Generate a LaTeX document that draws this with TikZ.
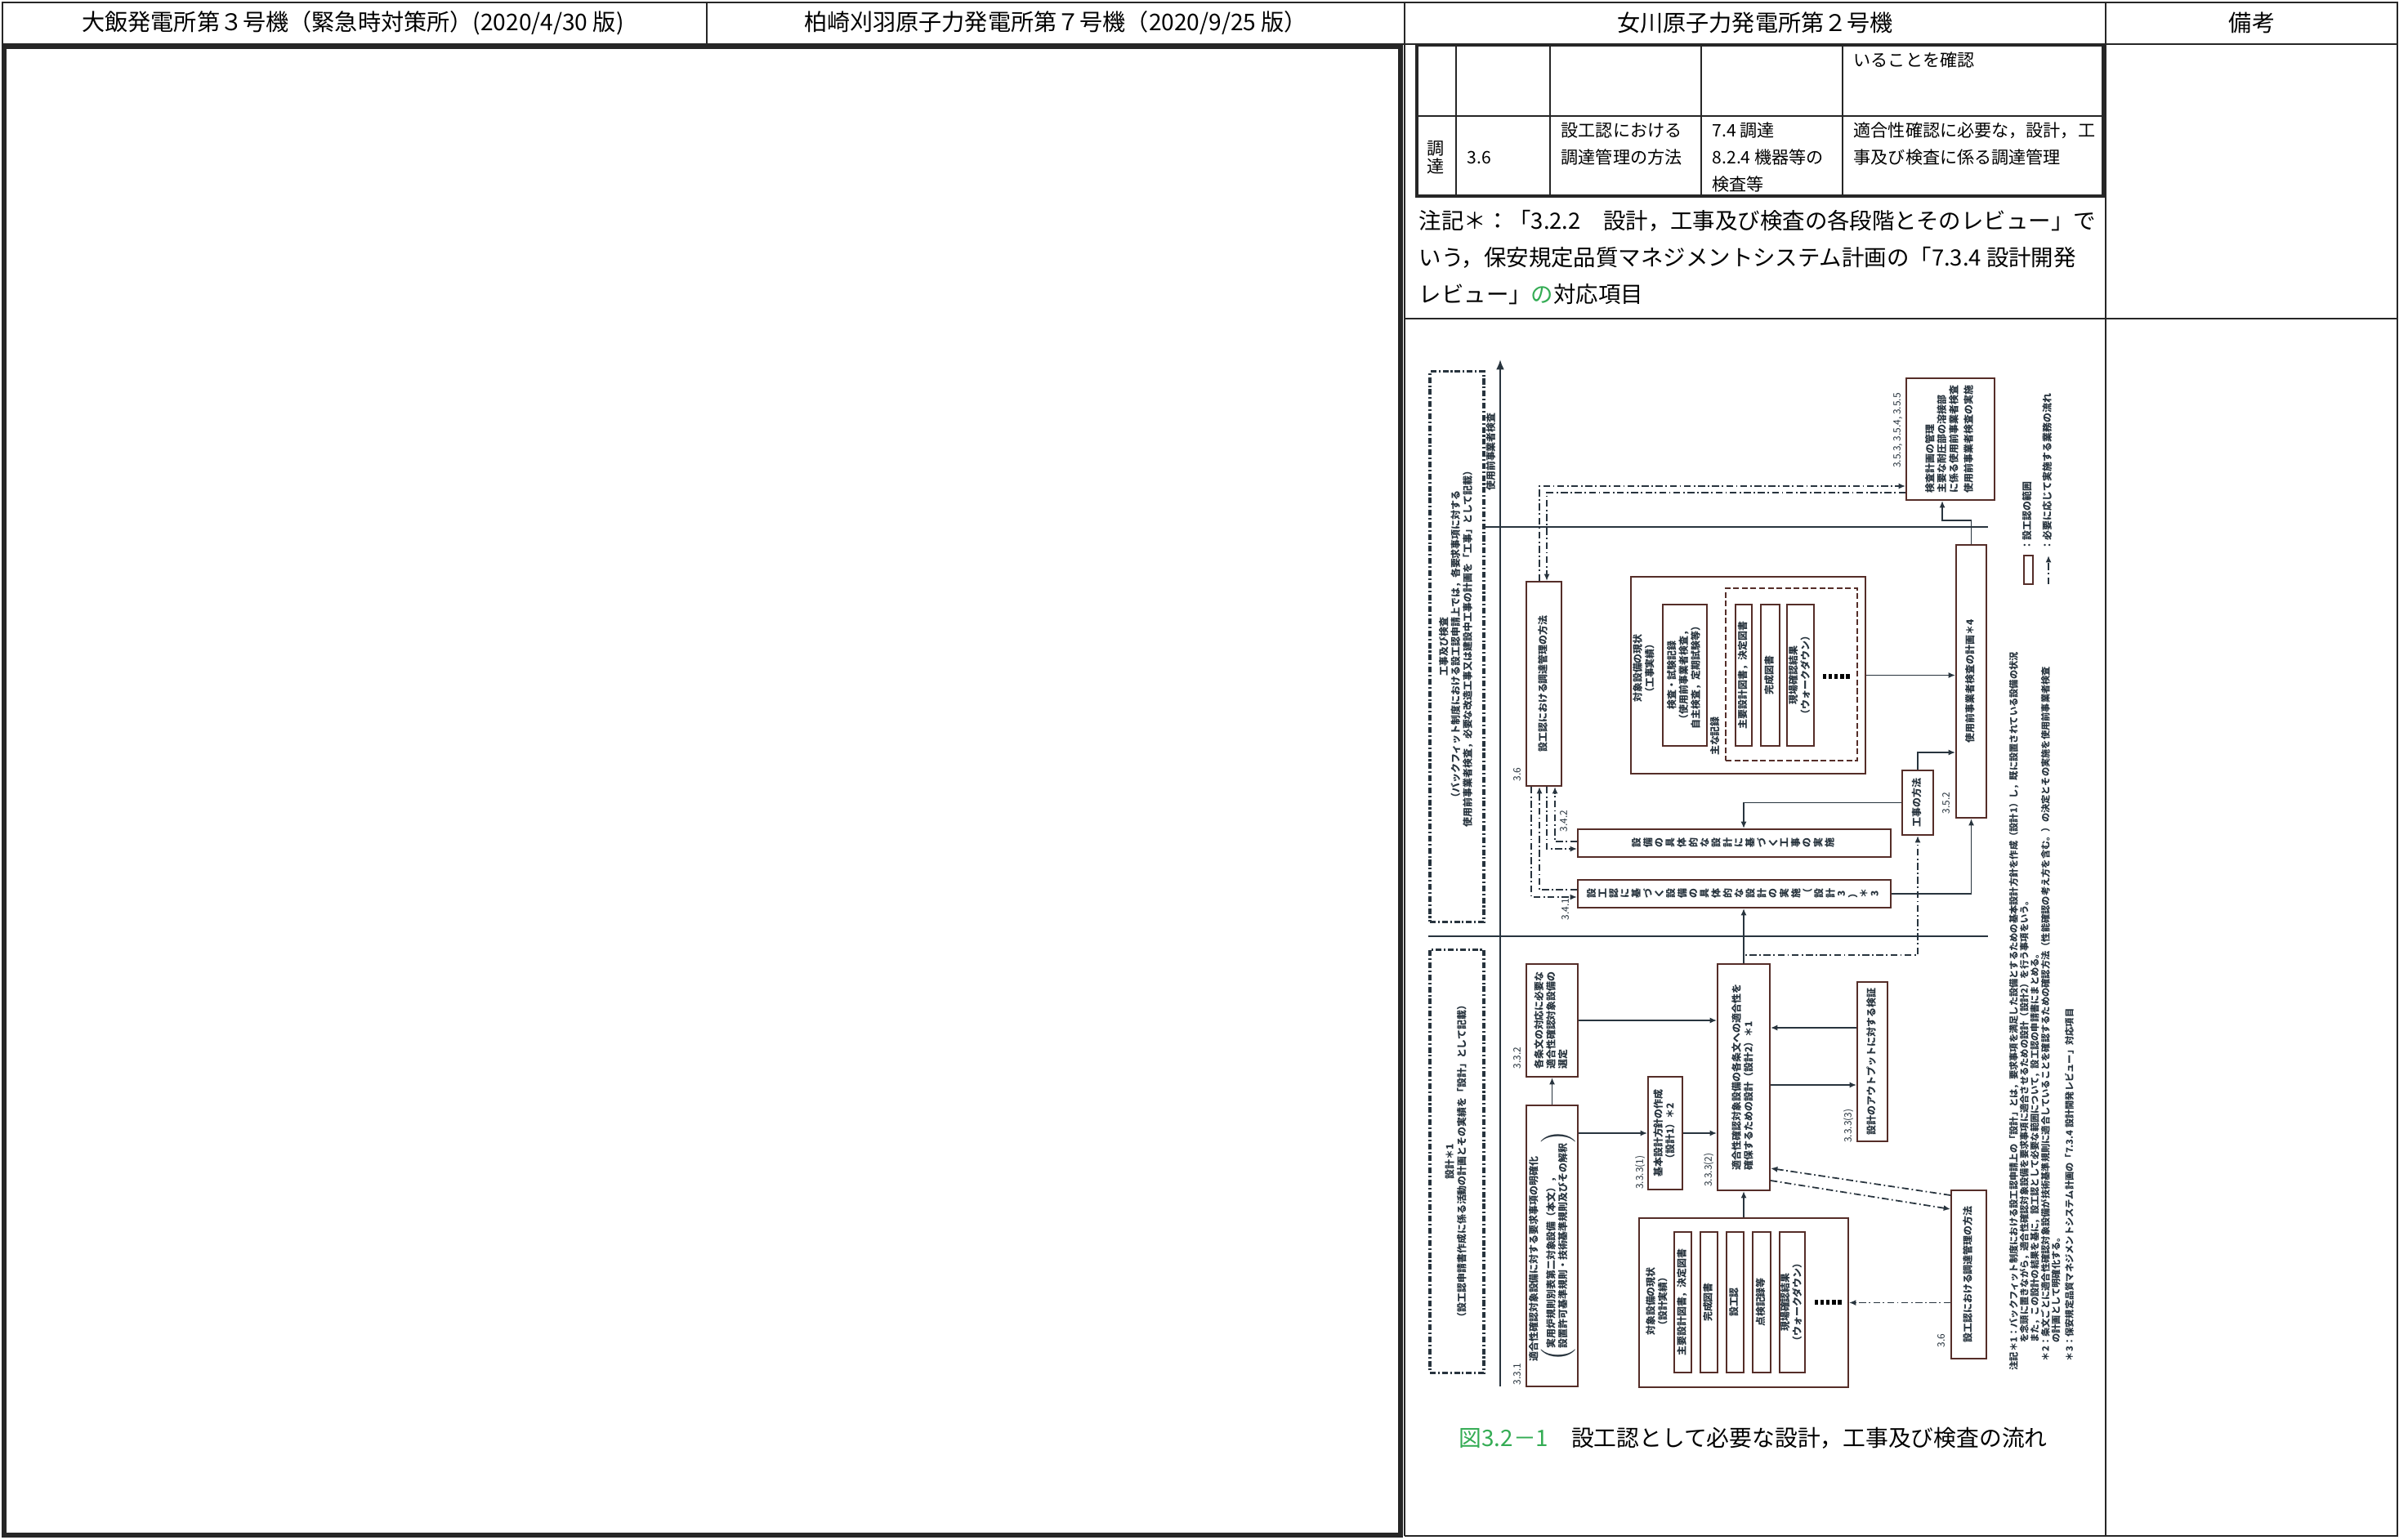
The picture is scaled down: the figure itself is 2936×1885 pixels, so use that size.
\documentclass[tikz,border=0pt]{standalone}
\usepackage{fontspec}
\setmainfont{Noto Sans CJK JP}
\usepackage{graphicx}
\usepackage{tikz}
\usetikzlibrary{arrows.meta}
\definecolor{ink}{RGB}{40,52,62}
\definecolor{boxink}{RGB}{85,45,40}
\definecolor{figgreen}{RGB}{52,172,84}
\newcommand{\fltext}{\fontsize{3.4}{4.1}\selectfont}
\newcommand{\ntext}{\fontsize{3.2}{3.0}\selectfont\bfseries}
\newcommand{\vtxt}[1]{\rotatebox{90}{\begin{tabular}{@{}l@{}}#1\end{tabular}}}
\newcommand{\vctr}[1]{\rotatebox{90}{\begin{tabular}{@{}c@{}}#1\end{tabular}}}
\newcommand{\vchars}[1]{\rotatebox{90}{\def\arraystretch{0.92}\begin{tabular}{@{}c@{}}#1\end{tabular}}}
\newcommand{\dotsq}{\rule{1.4pt}{1.5pt}}
\newcommand{\dotrow}{\dotsq\hspace{0.6pt}\dotsq\hspace{0.6pt}\dotsq\hspace{0.6pt}\dotsq\hspace{0.6pt}\dotsq}

\begin{document}
\begin{tikzpicture}[x=0.01cm, y=-0.01cm,
  pgrule/.style={line width=0.8pt, draw=black!85},
  pgthick/.style={line width=1.6pt, draw=black!85},
  tblouter/.style={line width=1.1pt, draw=black!85},
  tblinner/.style={line width=0.7pt, draw=black!85},
  hdr/.style={inner sep=0pt, font=\fontsize{8}{9.6}\selectfont},
  cell/.style={inner sep=0pt, anchor=west, align=left, font=\fontsize{6}{9.4}\selectfont},
  notetext/.style={inner sep=0pt, anchor=west, font=\fontsize{7.8}{12}\selectfont},
  flowbox/.style={draw=boxink, line width=0.5pt, inner sep=0pt, text=ink, font=\fltext\bfseries},
  recgroup/.style={flowbox, dash pattern=on 2pt off 1pt},
  ddbox/.style={draw=ink, line width=0.9pt, dash pattern=on 2pt off 0.8pt on 0.6pt off 0.8pt, inner sep=0pt, text=ink, font=\fltext\bfseries},
  secno/.style={inner sep=0pt, text=ink, font=\fltext},
  arr/.style={draw=ink, line width=0.5pt, -{Latex[length=2.4pt,width=2pt]}},
  ddarr/.style={arr, dash pattern=on 2.4pt off 1pt on 0.5pt off 1pt},
  sepline/.style={draw=ink, line width=0.5pt}]

\fill[white] (0,0) rectangle (2936,1885);
\useasboundingbox (0,0) rectangle (2936,1885);

% page frame
\draw[pgrule] (3,3) rectangle (2934,54);
\draw[pgrule] (865,3) -- (865,54);
\draw[pgrule] (1719,3) -- (1719,1880);
\draw[pgrule] (2577,3) -- (2577,1880);
\draw[pgrule] (2934,54) -- (2934,1880) -- (1719,1880);
\draw[pgrule] (1719,390) -- (2934,390);
\draw[pgthick] (5,57) rectangle (1714,1879);

\node[hdr] (hdA) at (432,28) {大飯発電所第３号機（緊急時対策所）(2020/4/30 版)};
\node[hdr] (hdB) at (1292,28) {柏崎刈羽原子力発電所第７号機（2020/9/25 版）};
\node[hdr] (hdC) at (2148,28) {女川原子力発電所第２号機};
\node[hdr] (hdD) at (2756,28) {備考};

% table at top of column 3
\draw[tblouter] (1734,55) rectangle (2574,240);
\draw[tblinner] (1734,142) -- (2574,142);
\foreach \cx in {1782,1897,2082,2255}
  \draw[tblinner] (\cx,55) -- (\cx,240);

\node[cell] (cA) at (2268,73) {いることを確認};
\node[cell, anchor=center] (cB1) at (1757,182) {調};
\node[cell, anchor=center] (cB2) at (1757,203) {達};
\node[cell] (cC) at (1795,193) {3.6};
\node[cell] (cD) at (1910,176.5) {設工認における\\調達管理の方法};
\node[cell] (cE) at (2095,192.5) {7.4 調達\\8.2.4 機器等の\\検査等};
\node[cell] (cF) at (2268,176.5) {適合性確認に必要な，設計，工\\事及び検査に係る調達管理};

\node[notetext] (nA) at (1736,270) {注記＊：「3.2.2　設計，工事及び検査の各段階とそのレビュー」で};
\node[notetext] (nB) at (1736,315) {いう，保安規定品質マネジメントシステム計画の「7.3.4 設計開発};
\node[notetext] (nC) at (1736,360) {レビュー」{\color{figgreen}の}対応項目};

% flow chart (turned on its side)
\coordinate (axbot) at (1836,1697);
\coordinate (axtop) at (1836,440);
\draw[ink, line width=0.6pt, -{Latex[length=3.5pt,width=2.8pt]}] (axbot) -- (axtop);

\node[ddbox, minimum width=0.66cm, minimum height=6.73cm] (kojibox) at (1783,791.5)
  {\vctr{工事及び検査\\（バックフィット制度における設工認申請上では，各要求事項に対する\\使用前事業者検査，必要な改造工事又は建設中工事の計画を「工事」として記載）}};
\node[ddbox, minimum width=0.66cm, minimum height=5.17cm] (sekkeibox) at (1783,1421.5)
  {\vctr{設計＊1\\（設工認申請書作成に係る活動の計画とその実績を「設計」として記載）}};
\node[secno, font=\fltext\bfseries] (uselbl) at (1826,553) {\vctr{使用前事業者検査}};

\draw[sepline] (kojibox.east |- 0,645) -- (2433,645);
\draw[sepline] (kojibox.west |- 0,1146) -- (2433,1146);

% construction and inspection
\node[flowbox, minimum width=0.43cm, minimum height=2.50cm] (chotatsuA) at (1889.5,837) {\vctr{設工認における調達管理の方法}};
\node[flowbox, minimum width=1.08cm, minimum height=1.49cm] (insp) at (2387,537.5)
  {\vtxt{検査計画の管理\\主要な耐圧部の溶接部\\に係る使用前事業者検査\\[1pt]使用前事業者検査の実施}};
\node[flowbox, minimum width=2.87cm, minimum height=2.41cm] (kojigrp) at (2139.5,826.5) {};
\node[secno, font=\fltext\bfseries] (kojilbl) at (2013,818) {\vctr{対象設備の現状\\（工事実績）}};
\node[flowbox, minimum width=0.54cm, minimum height=1.73cm] (kojirec) at (2062,826.5)
  {\vctr{検査・試験記録\\（使用前事業者検査，\\自主検査，定期試験等）}};
\node[recgroup, minimum width=1.61cm, minimum height=2.11cm] (recgrp) at (2192.5,825.5) {};
\node[secno, font=\fltext\bfseries] (reclbl) at (2100,901) {\vctr{主な記録}};
\node[flowbox, minimum width=0.20cm, minimum height=1.73cm] (rec1) at (2134,826.5) {\vctr{主要設計図書，決定図書}};
\node[flowbox, minimum width=0.23cm, minimum height=1.73cm] (rec2) at (2166.5,826.5) {\vctr{完成図書}};
\node[flowbox, minimum width=0.33cm, minimum height=1.73cm] (rec3) at (2203.5,826.5) {\vctr{現場確認結果\\（ウォークダウン）}};
\node[secno, text=black] (kdots) at (2247,828) {\dotrow};
\node[flowbox, minimum width=0.37cm, minimum height=3.34cm] (plan) at (2412.5,834) {\vctr{使用前事業者検査の計画＊4}};
\node[flowbox, minimum width=0.38cm, minimum height=0.79cm] (method) at (2347,982.5) {\vctr{工事の方法}};
\node[flowbox, minimum width=3.83cm, minimum height=0.34cm] (buildimpl) at (2122.5,1032)
  {\vchars{設\\備\\の\\具\\体\\的\\な\\設\\計\\に\\基\\づ\\く\\工\\事\\の\\実\\施}};
\node[flowbox, minimum width=3.83cm, minimum height=0.34cm] (designimpl) at (2122.5,1094)
  {\vchars{設\\工\\認\\に\\基\\づ\\く\\設\\備\\の\\具\\体\\的\\な\\設\\計\\の\\実\\施\\（\\設\\計\\3\\）\\＊\\3}};

\node[secno] (noA) at (1858,948) {\vctr{3.6}};
\node[secno] (noB) at (2323,527) {\vctr{3.5.3, 3.5.4, 3.5.5}};
\node[secno] (noC) at (2383,983) {\vctr{3.5.2}};
\node[secno] (noD) at (1915,1005) {\vctr{3.4.2}};
\node[secno] (noE) at (1917,1113) {\vctr{3.4.1}};

\draw[ddarr] (chotatsuA.north -| 1884,0) |- (insp.west |- 0,595);
\draw[ddarr] (insp.west |- 0,603) -| (chotatsuA.north -| 1893,0);
\draw[arr] (plan.north) |- (2377,637) -- (insp.south -| 2377,0);
\draw[arr] (kojigrp.east) -- (plan.west |- kojigrp.east);
\draw[arr] (method.north) |- (plan.west |- 0,921);
\draw[arr] (method.west) -| (buildimpl.north -| 2134,0);
\draw[arr] (designimpl.east) -| (plan.south);
\draw[ddarr] (buildimpl.west |- 0,1030) -| (chotatsuA.south -| 1903,0);
\draw[ddarr] (chotatsuA.south -| 1893,0) |- (buildimpl.west |- 0,1039);
\draw[ddarr] (designimpl.west |- 0,1089) -| (chotatsuA.south -| 1884,0);
\draw[ddarr] (chotatsuA.south -| 1874,0) |- (designimpl.west |- 0,1098);

% design
\node[flowbox, minimum width=0.63cm, minimum height=1.38cm] (select) at (1899.5,1249)
  {\vtxt{各条文の対応に必要な\\適合性確認対象設備の\\選定}};
\node[flowbox, minimum width=0.63cm, minimum height=3.44cm] (reqs) at (1899.5,1525)
  {\vtxt{適合性確認対象設備に対する要求事項の明確化\\$\left(\begin{tabular}{@{}l@{}}実用炉規則別表第二対象設備（本文），\\設置許可基準規則・技術基準規則及びその解釈\end{tabular}\right)$}};
\node[flowbox, minimum width=0.42cm, minimum height=1.38cm] (basic) at (2038,1387) {\vctr{基本設計方針の作成\\（設計1）＊2}};
\node[flowbox, minimum width=0.64cm, minimum height=2.77cm] (design) at (2134,1318.5)
  {\vtxt{適合性確認対象設備の各条文への適合性を\\確保するための設計（設計2）＊1}};
\node[flowbox, minimum width=0.37cm, minimum height=1.95cm] (verify) at (2291.5,1299.5) {\vctr{設計のアウトプットに対する検証}};
\node[flowbox, minimum width=2.56cm, minimum height=2.07cm] (desgrp) at (2134,1594.5) {};
\node[secno, font=\fltext\bfseries] (deslbl) at (2029,1593) {\vctr{対象設備の現状\\（設計実績）}};
\node[flowbox, minimum width=0.21cm, minimum height=1.72cm] (drec1) at (2059.5,1594) {\vctr{主要設計図書，決定図書}};
\node[flowbox, minimum width=0.21cm, minimum height=1.72cm] (drec2) at (2091.5,1594) {\vctr{完成図書}};
\node[flowbox, minimum width=0.21cm, minimum height=1.72cm] (drec3) at (2123.5,1594) {\vctr{設工認}};
\node[flowbox, minimum width=0.22cm, minimum height=1.72cm] (drec4) at (2156,1594) {\vctr{点検記録等}};
\node[flowbox, minimum width=0.31cm, minimum height=1.72cm] (drec5) at (2193.5,1594) {\vctr{現場確認結果\\（ウォークダウン）}};
\node[secno, text=black] (ddots) at (2237,1594) {\dotrow};
\node[flowbox, minimum width=0.43cm, minimum height=2.06cm] (chotatsuB) at (2409.5,1560) {\vctr{設工認における調達管理の方法}};

\node[secno] (noF) at (1858,1295) {\vctr{3.3.2}};
\node[secno] (noG) at (1858,1682) {\vctr{3.3.1}};
\node[secno] (noH) at (2008,1435) {\vctr{3.3.3(1)}};
\node[secno] (noI) at (2092,1432) {\vctr{3.3.3(2)}};
\node[secno] (noJ) at (2263,1378) {\vctr{3.3.3(3)}};
\node[secno] (noK) at (2377,1641) {\vctr{3.6}};

\draw[arr] (design.north) -- (designimpl.south -| design.north);
\draw[ddarr] (design.north) -- ++(0,-10) -| (method.south);
\draw[arr] (reqs.north) -- (select.south);
\draw[arr] (select.east) -- (design.west |- select.east);
\draw[arr] (reqs.east |- basic.west) -- (basic.west);
\draw[arr] (basic.east) -- (design.west |- basic.east);
\draw[arr] (verify.west |- 0,1258) -- (design.east |- 0,1258);
\draw[arr] (design.east |- 0,1328) -- (verify.west |- 0,1328);
\draw[arr] (desgrp.north) -- (design.south);
\draw[ddarr] (chotatsuB.west |- 0,1463) -- (design.east |- 0,1430);
\draw[ddarr] (design.east |- 0,1445) -- (chotatsuB.west |- 0,1480);
\draw[ddarr] (chotatsuB.west |- desgrp.east) -- (desgrp.east);

% legend and notes
\node[flowbox, minimum width=0.11cm, minimum height=0.35cm] (legbox) at (2482.5,697.5) {};
\node[secno, font=\fltext\bfseries, anchor=south] (legtxtA) at (2482,674) {\vtxt{：設工認の範囲}};
\coordinate (legtail) at (2507,715);
\coordinate (leghead) at (2507,680);
\draw[ddarr] (legtail) -- (leghead);
\node[secno, font=\fltext\bfseries, anchor=south] (legtxtB) at (2507,674) {\vtxt{：必要に応じて実施する業務の流れ}};

\node[secno, font=\ntext, anchor=south west] (notes) at (2458,1678)
  {\vtxt{注記＊1：バックフィット制度における設工認申請上の「設計」とは，要求事項を満足した設備とするための基本設計方針を作成（設計1）し，既に設置されている設備の状況\\　　　を念頭に置きながら，適合性確認対象設備を要求事項に適合させるための設計（設計2）を行う事項をいう。\\　　　また，この設計の結果を基に，設工認として必要な範囲について，設工認の申請書にまとめる。\\　＊2：条文ごとに適合性確認対象設備が技術基準規則に適合していることを確認するための確認方法（性能確認の考え方を含む。）の決定とその実施を使用前事業者検査\\　　　の計画として明確化する。\\[1pt]　＊3：保安規定品質マネジメントシステム計画の「7.3.4 設計開発レビュー」対応項目}};

\node[notetext, font=\fontsize{7.9}{10}\selectfont] (cap) at (1785,1760)
  {{\color{figgreen}図3.2－1}　設工認として必要な設計，工事及び検査の流れ};
\end{tikzpicture}
\end{document}
